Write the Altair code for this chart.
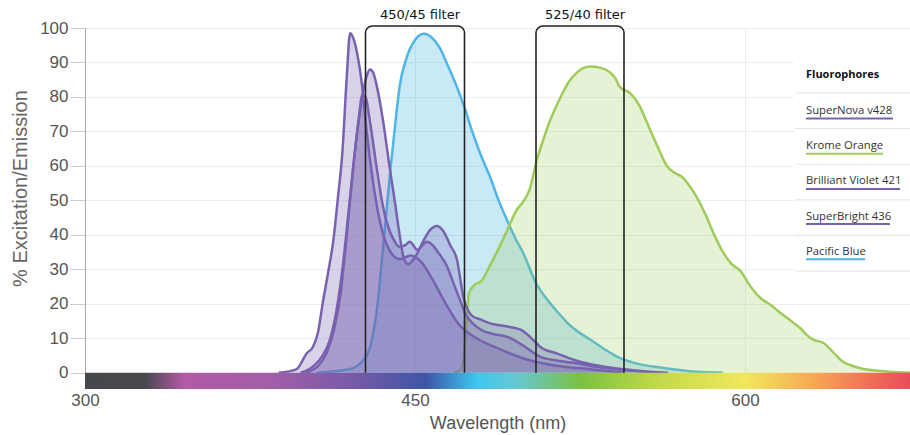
import altair as alt
import pandas as pd

# ---------------- data ----------------
dyes = ["SuperNova v428", "Krome Orange", "Brilliant Violet 421", "SuperBright 436", "Pacific Blue"]
dye_colors = ["#7862b0", "#9fcb5b", "#7862b0", "#7862b0", "#4db6e6"]
draw_order = ["Pacific Blue", "Krome Orange", "Brilliant Violet 421", "SuperBright 436", "SuperNova v428"]

pb_wl = [405, 420, 428, 433, 436, 439, 441, 443, 446, 450, 454, 458, 461, 465, 469, 473, 476, 480, 484, 488,
         492, 496, 499, 505, 511, 515, 520, 525, 530, 537, 543, 550, 563, 578, 590]
pb_val = [0, 1, 5, 20, 40, 60, 72, 83, 91, 96.5, 98.3, 97, 94.5, 89, 83, 76, 70, 63, 57, 50,
          44, 38.5, 35, 26, 20.5, 17.5, 14, 11.5, 9.5, 6.5, 4.3, 2.8, 1.4, 0.3, 0]

ko_wl = [468, 471, 473, 474.5, 477, 480, 484, 488, 492, 496, 499, 502, 505.5, 508, 511, 514, 517, 520, 523.5, 527,
         530, 534, 538.5, 541, 543, 548, 552, 555.5, 560, 564.5, 568, 571, 575, 578, 582, 586, 590, 594, 598, 602,
         607, 612, 616, 620, 625, 628, 631, 635.5, 640, 644.5, 648, 652, 656, 661, 668, 675]
ko_val = [0, 1, 10, 23, 25.5, 26.5, 31, 36, 41.5, 47, 49.5, 53, 62, 67, 72.5, 77, 81, 84.5, 87, 88.5,
          88.8, 88.5, 87.2, 85.5, 83, 81, 77.5, 72.5, 66, 60, 58, 57, 54, 51, 46, 40, 35, 31.5, 29.5, 25.5,
          21.7, 19.5, 17.4, 15.5, 13, 11, 9.6, 8.7, 6, 3.2, 2.2, 1.4, 0.9, 0.6, 0.2, 0]

bv_wl = [388, 396, 401, 403.6, 406, 408, 410.5, 413, 415, 417, 419, 420.5, 422, 423.6, 426, 428, 431, 434, 438, 443,
         448, 453, 458, 464, 470, 478, 488, 500, 515, 530, 545]
bv_val = [0, 1, 5.8, 7.5, 12, 20, 29, 39, 51, 64, 86, 98.5, 97, 93, 83, 70, 55, 44, 36, 33,
          34, 32, 27, 20, 14, 10, 7, 4, 2, 1, 0]

sb_wl = [398, 404, 408, 411, 414, 417, 420, 423, 426, 428, 429.5, 431, 432.7, 435.5, 438.6, 441, 443, 445, 447, 450,
         454, 457, 460, 463, 466, 469, 472, 476, 480, 485, 492, 498, 503, 507, 515, 522, 530, 537, 550, 565]
sb_val = [0, 2, 5, 9, 17, 30, 48, 66, 80, 86, 88, 87, 83, 73, 59, 49, 40, 33, 31.5, 33.5,
          38.5, 41.5, 42.6, 41, 37, 33, 22, 16.5, 15.4, 14.2, 13.4, 12.5, 10, 7.5, 5.5, 3.8, 2.5, 1.7, 0.7, 0]

sn_wl = [400, 406, 410, 413, 416, 419, 422, 424.5, 426, 427.5, 429.5, 432.7, 435.5, 438, 440, 443, 445.5, 447.7, 451, 455.5,
         458, 461, 464.5, 467.5, 470.5, 473, 476, 480, 486, 492, 499, 507, 515, 522, 530, 537, 550, 560]
sn_val = [0, 2, 6, 12, 22, 40, 60, 74, 80.5, 80, 73, 59, 48, 42, 39, 36.5, 37, 38, 35.7, 38,
          37, 34.5, 31, 26, 21, 17, 14.5, 12.5, 11.2, 10.4, 8, 4.6, 3.5, 2.9, 2, 1.4, 0.5, 0]

spectra = {
    "Pacific Blue": (pb_wl, pb_val),
    "Krome Orange": (ko_wl, ko_val),
    "Brilliant Violet 421": (bv_wl, bv_val),
    "SuperBright 436": (sb_wl, sb_val),
    "SuperNova v428": (sn_wl, sn_val),
}

filter_names = ["450/45 filter", "525/40 filter"]
filter_center = [450, 525]
filter_width = [45, 40]

x_ticks = [300, 450, 600]
y_ticks = list(range(0, 101, 10))
x_range = [300, 675]

spectrum_stops = [
    (300, "#45484b"), (327, "#47484c"), (345, "#b25aa6"), (385, "#a25ea8"), (420, "#7a5aa8"),
    (455, "#3d55a6"), (478, "#3fc6ef"), (496, "#66c8d2"), (525, "#7bc143"), (562, "#c4da4a"),
    (600, "#f0e75d"), (632, "#f6a653"), (660, "#ee6858"), (675, "#e84e5a"),
]

# ---------------- build ----------------
rows = []
for name, (wls, vals) in spectra.items():
    for w, v in zip(wls, vals):
        rows.append({"dye": name, "wl": w, "val": v})
spec_df = pd.DataFrame(rows)

FONT = "Liberation Sans"
xs = alt.Scale(domain=x_range, nice=False, zero=False)
ys = alt.Scale(domain=[-4.7, 100], nice=False, zero=False)

x_axis = alt.Axis(values=x_ticks, title="Wavelength (nm)", domain=False, ticks=False, labelFlush=False,
                  labelOverlap=False, labelPadding=3, labelFont=FONT, labelFontSize=17, labelColor="#555555",
                  titleFont=FONT, titleFontSize=18, titleFontWeight="normal", titleColor="#555555",
                  titleY=34, titleBaseline="middle", grid=True, gridColor="#ededed")
y_axis = alt.Axis(values=y_ticks, title="% Excitation/Emission", domain=True, domainColor="#aaaaaa",
                  ticks=True, tickSize=15, tickColor="#cccccc", labelPadding=2, labelFont=FONT,
                  labelOverlap=False, labelFontSize=17, labelColor="#555555", titleFont=FONT, titleFontSize=20,
                  titleFontWeight="normal", titleColor="#666666", titleX=-65, titleY=160,
                  titleAlign="center", titleBaseline="middle", titleAngle=270,
                  grid=True, gridColor="#ededed")

color_scale = alt.Scale(domain=dyes, range=dye_colors)

def X(field):
    return alt.X(field, type="quantitative", scale=xs, axis=x_axis)

def Y(field):
    return alt.Y(field, type="quantitative", scale=ys, axis=y_axis)

def YD(v):
    return alt.YDatum(v, scale=ys, axis=y_axis)

layers = []
fill_op = {"Pacific Blue": 0.3, "Krome Orange": 0.26, "Brilliant Violet 421": 0.28,
           "SuperBright 436": 0.28, "SuperNova v428": 0.28}
for name in draw_order:
    sub = alt.Chart(spec_df).transform_filter(alt.datum.dye == name)
    layers.append(sub.mark_area(interpolate="monotone", opacity=fill_op[name]).encode(
        x=X("wl"), y=Y("val"),
        color=alt.Color("dye:N", scale=color_scale, legend=None)))
    layers.append(sub.mark_line(interpolate="monotone", strokeWidth=2.5).encode(
        x=X("wl"), y=Y("val"),
        color=alt.Color("dye:N", scale=color_scale, legend=None)))

filt_df = pd.DataFrame({
    "name": filter_names,
    "center": filter_center,
    "start": [c - w / 2 for c, w in zip(filter_center, filter_width)],
    "end": [c + w / 2 for c, w in zip(filter_center, filter_width)],
})
layers.append(alt.Chart(filt_df).mark_rect(fill="transparent", stroke="#222222", strokeWidth=1.6,
                                          cornerRadius=7).encode(
    x=X("start"), x2="end", y=YD(100.6), y2=alt.Y2Datum(-3)))
layers.append(alt.Chart(filt_df).mark_text(font="DejaVu Sans", fontSize=13, color="#111111",
                                          dx=5, baseline="middle").encode(
    x=X("center"), y=YD(103.8), text="name:N"))

# spectrum colour bar under the baseline
bar_df = pd.DataFrame({"start": [x_range[0]], "end": [x_range[1]]})
span = x_range[1] - x_range[0]
gradient = {"gradient": "linear", "x1": 0, "x2": 1, "y1": 0, "y2": 0,
            "stops": [{"offset": (w - x_range[0]) / span, "color": c} for w, c in spectrum_stops]}
layers.append(alt.Chart(bar_df).mark_rect(fill=gradient).encode(
    x=X("start"), x2="end", y=YD(-4.7), y2=alt.Y2Datum(0)))

# custom legend panel (layout in pixels of the plot area)
one = pd.DataFrame({"k": [0]})
layers.append(alt.Chart(one).mark_rect(fill="white").encode(
    x=alt.value(709), x2=alt.value(825), y=alt.value(17), y2=alt.value(247)))
for i in range(6):
    yy = 65 + 35.6 * i
    layers.append(alt.Chart(one).mark_rule(stroke="#e4e4e4", strokeWidth=1).encode(
        x=alt.value(710), x2=alt.value(825), y=alt.value(yy)))
layers.append(alt.Chart(pd.DataFrame({"t": ["Fluorophores"]})).mark_text(
    font="Open Sans", fontSize=11, fontWeight="bold", color="#111111", align="left", baseline="middle").encode(
    x=alt.value(721), y=alt.value(47), text="t:N"))
underline_len = [87, 77, 94, 84, 59]
for i, (name, col) in enumerate(zip(dyes, dye_colors)):
    ty = 83 + 35.2 * i
    layers.append(alt.Chart(pd.DataFrame({"t": [name]})).mark_text(
        font="Open Sans", fontSize=11.3, color="#333333", align="left", baseline="middle").encode(
        x=alt.value(721), y=alt.value(ty), text="t:N"))
    layers.append(alt.Chart(one).mark_rule(stroke=col, strokeWidth=2).encode(
        x=alt.value(721), x2=alt.value(721 + underline_len[i]), y=alt.value(ty + 7.5)))

chart = alt.layer(*layers).properties(
    width=825, height=361,
    padding={"left": 85, "top": 28, "right": 0, "bottom": 46},
    autosize=alt.AutoSizeParams(type="none"),
    background="white",
).configure_view(stroke=None)

chart.save("out.html", embed_options={"renderer": "svg", "actions": False})
